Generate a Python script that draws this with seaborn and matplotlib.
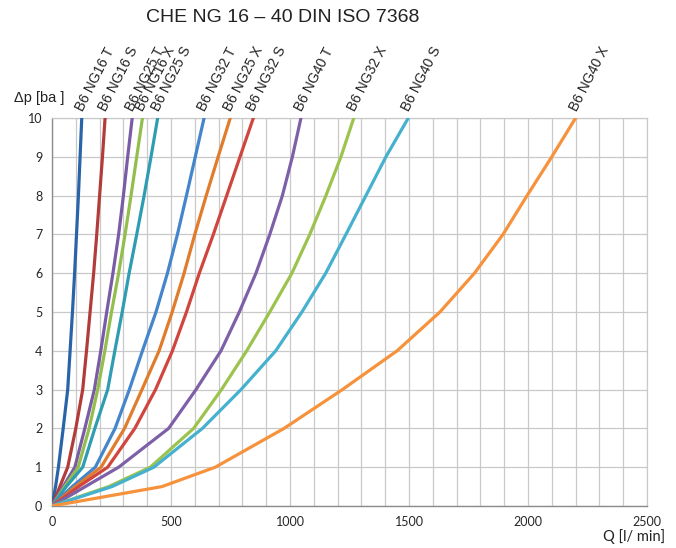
import pandas as pd
import numpy as np
import matplotlib
matplotlib.use("Agg")
import matplotlib.pyplot as plt
import seaborn as sns

dp_levels = [0, 0.5, 1, 2, 3, 4, 5, 6, 7, 8, 9, 10]

# flow Q [l/min] per curve at each dp level
q_ng16_t = [0, 15, 27, 47, 66, 76, 86, 95, 103, 111, 118, 125]
q_ng16_s = [0, 33, 66, 100, 129, 145, 160, 175, 188, 200, 212, 223]
q_ng25_t = [0, 47, 96, 138, 178, 205, 230, 256, 280, 300, 318, 337]
q_ng16_x = [0, 53, 110, 156, 192, 222, 250, 280, 307, 332, 356, 380]
q_ng25_s = [0, 60, 129, 180, 234, 264, 295, 324, 356, 387, 416, 444]
q_ng32_t = [0, 85, 182, 265, 325, 380, 437, 485, 527, 565, 602, 639]
q_ng25_x = [0, 98, 206, 305, 378, 450, 505, 555, 600, 648, 698, 749]
q_ng32_s = [0, 112, 234, 348, 435, 506, 565, 619, 678, 734, 790, 846]
q_ng40_t = [0, 140, 280, 490, 605, 710, 787, 857, 915, 968, 1010, 1046]
q_ng32_x = [0, 238, 413, 595, 712, 818, 915, 1008, 1083, 1151, 1214, 1268]
q_ng40_s = [0, 252, 428, 632, 794, 940, 1050, 1150, 1235, 1319, 1403, 1497]
q_ng40_x = [0, 462, 686, 975, 1220, 1450, 1630, 1775, 1895, 1996, 2100, 2200]

series_names = ['B6 NG16 T', 'B6 NG16 S', 'B6 NG25 T', 'B6 NG16 X', 'B6 NG25 S', 'B6 NG32 T',
                'B6 NG25 X', 'B6 NG32 S', 'B6 NG40 T', 'B6 NG32 X', 'B6 NG40 S', 'B6 NG40 X']
series_q = [q_ng16_t, q_ng16_s, q_ng25_t, q_ng16_x, q_ng25_s, q_ng32_t,
            q_ng25_x, q_ng32_s, q_ng40_t, q_ng32_x, q_ng40_s, q_ng40_x]
colors = ['#2A64A8', '#B23C3A', '#7A5CA6', '#93BE4E', '#2E9DB2', '#4485CC',
          '#E07C2C', '#D0463F', '#7E60A8', '#9CC34E', '#45B1CF', '#F7923C']

# long table for seaborn
rows = []
for name, qs in zip(series_names, series_q):
    for q, dp in zip(qs, dp_levels):
        rows.append({'curve': name, 'Q': q, 'dp': dp})
df = pd.DataFrame(rows)

sns.set_style("white")
plt.rcParams['font.family'] = ['Liberation Sans', 'DejaVu Sans']

fig = plt.figure(figsize=(6.76, 5.48), dpi=100)
ax = fig.add_axes([52 / 676, 1 - 506 / 548, 595 / 676, 388 / 548])

sns.lineplot(data=df, x='Q', y='dp', hue='curve', hue_order=series_names,
             palette=dict(zip(series_names, colors)), sort=False, estimator=None,
             linewidth=2.3, legend=False, ax=ax, zorder=3)

ax.set_xlim(0, 2500)
ax.set_ylim(0, 10)
ax.set_xticks(np.arange(0, 2501, 500))
ax.set_xticks(np.arange(0, 2501, 100), minor=True)
ax.set_yticks(np.arange(0, 11, 1))
ax.grid(True, which='both', axis='x', color='#C9C9C9', linewidth=0.9)
ax.grid(True, which='major', axis='y', color='#C9C9C9', linewidth=0.9)
ax.set_axisbelow(True)
for side in ['top', 'right']:
    ax.spines[side].set_color('#C9C9C9')
    ax.spines[side].set_linewidth(0.9)
for side in ['left', 'bottom']:
    ax.spines[side].set_color('#8C8C8C')
    ax.spines[side].set_linewidth(1.0)
ax.tick_params(axis='both', which='major', length=4, width=1, color='#8C8C8C',
               labelsize=9, pad=3, direction='out')
ax.tick_params(axis='x', which='minor', length=0)
for lab in ax.get_xticklabels() + ax.get_yticklabels():
    lab.set_family(['Lato', 'DejaVu Sans'])
ax.set_xlabel('')
ax.set_ylabel('')

# curve labels at the top end of each curve
for name, qs in zip(series_names, series_q):
    ax.text(qs[-1] + 4, 10.16, name, rotation=63, rotation_mode='anchor',
            ha='left', va='baseline', fontsize=10, color='#222222', clip_on=False)

fig.text(283 / 676, 1 - 17 / 548, 'CHE NG 16 \u2013 40 DIN ISO 7368', ha='center', va='center',
         fontsize=14, color='#222222')
fig.text(14 / 676, 1 - 98 / 548, '\u0394p [ba ]', ha='left', va='center', fontsize=10.5, color='#222222')
fig.text(665 / 676, 1 - 537 / 548, 'Q [l/ min]', ha='right', va='center', fontsize=10.5,
         color='#222222', family=['Lato', 'DejaVu Sans'])

fig.savefig('out.png', dpi=100)
